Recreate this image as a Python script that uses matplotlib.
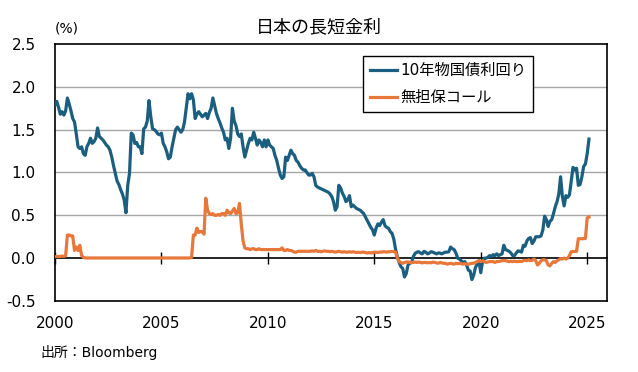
import matplotlib
matplotlib.use("Agg")
import matplotlib.pyplot as plt
import numpy as np
import pandas as pd

plt.rcParams['font.family'] = ['DejaVu Sans', 'Noto Sans CJK JP']

# monthly, Jan 2000 - Feb 2025
jgb10 = [
    1.79, 1.83, 1.76, 1.68, 1.71, 1.67, 1.72, 1.87, 1.80, 1.72, 1.63, 1.59,  # 2000
    1.45, 1.30, 1.28, 1.30, 1.22, 1.20, 1.30, 1.34, 1.40, 1.34, 1.36, 1.40,  # 2001
    1.52, 1.42, 1.40, 1.38, 1.35, 1.32, 1.30, 1.26, 1.18, 1.08, 0.99, 0.90,  # 2002
    0.86, 0.80, 0.75, 0.68, 0.53, 0.85, 0.99, 1.46, 1.44, 1.34, 1.35, 1.30,  # 2003
    1.30, 1.22, 1.51, 1.53, 1.60, 1.84, 1.65, 1.51, 1.50, 1.48, 1.45, 1.44,  # 2004
    1.46, 1.34, 1.30, 1.24, 1.16, 1.18, 1.30, 1.40, 1.50, 1.53, 1.50, 1.47,  # 2005
    1.50, 1.59, 1.75, 1.92, 1.86, 1.92, 1.85, 1.63, 1.68, 1.71, 1.68, 1.65,  # 2006
    1.67, 1.69, 1.63, 1.70, 1.75, 1.87, 1.78, 1.69, 1.63, 1.58, 1.52, 1.47,  # 2007
    1.38, 1.40, 1.28, 1.40, 1.75, 1.60, 1.55, 1.45, 1.42, 1.45, 1.30, 1.18,  # 2008
    1.26, 1.34, 1.40, 1.38, 1.47, 1.40, 1.32, 1.38, 1.35, 1.30, 1.38, 1.30,  # 2009
    1.38, 1.32, 1.30, 1.28, 1.20, 1.14, 1.05, 0.97, 0.93, 0.95, 1.18, 1.14,  # 2010
    1.20, 1.26, 1.22, 1.20, 1.14, 1.12, 1.08, 1.05, 1.03, 1.03, 1.00, 0.97,  # 2011
    0.97, 0.99, 0.95, 0.85, 0.83, 0.82, 0.81, 0.80, 0.79, 0.78, 0.77, 0.75,  # 2012
    0.72, 0.66, 0.56, 0.60, 0.85, 0.82, 0.76, 0.72, 0.66, 0.68, 0.73, 0.60,  # 2013
    0.62, 0.60, 0.58, 0.57, 0.56, 0.54, 0.52, 0.48, 0.44, 0.40, 0.36, 0.33,  # 2014
    0.27, 0.35, 0.40, 0.38, 0.42, 0.45, 0.38, 0.36, 0.35, 0.31, 0.29, 0.22,  # 2015
    0.10, 0.015, -0.05, -0.10, -0.12, -0.22, -0.18, -0.08, -0.06, -0.05, 0.02, 0.055,  # 2016
    0.07, 0.075, 0.06, 0.05, 0.08, 0.07, 0.05, 0.06, 0.075, 0.07, 0.06, 0.05,  # 2017
    0.06, 0.06, 0.05, 0.06, 0.07, 0.07, 0.075, 0.13, 0.11, 0.10, 0.06, 0.00,  # 2018
    -0.01, -0.03, -0.05, -0.04, -0.08, -0.14, -0.15, -0.25, -0.20, -0.11, -0.07, -0.03,  # 2019
    -0.17, -0.04, 0.00, 0.00, 0.01, 0.03, 0.02, 0.04, 0.03, 0.05, 0.03, 0.04,  # 2020
    0.05, 0.15, 0.10, 0.09, 0.08, 0.06, 0.03, 0.03, 0.06, 0.085, 0.08, 0.07,  # 2021
    0.15, 0.14, 0.20, 0.23, 0.24, 0.17, 0.20, 0.25, 0.25, 0.25, 0.26, 0.33,  # 2022
    0.49, 0.45, 0.37, 0.43, 0.45, 0.52, 0.60, 0.66, 0.75, 0.95, 0.72, 0.61,  # 2023
    0.73, 0.71, 0.74, 0.90, 1.06, 1.03, 1.05, 0.85, 0.86, 0.95, 1.07, 1.10,  # 2024
    1.22, 1.39,  # 2025
]

call_rate = [
    0.015, 0.02, 0.02, 0.02, 0.025, 0.02, 0.03, 0.27, 0.27, 0.26, 0.26, 0.09,  # 2000
    0.13, 0.09, 0.15, 0.03, 0.01, 0.003, 0.002, 0.002, 0.002, 0.002, 0.002, 0.002,  # 2001
    0.002, 0.002, 0.002, 0.002, 0.002, 0.002, 0.002, 0.002, 0.002, 0.002, 0.002, 0.002,  # 2002
    0.002, 0.002, 0.002, 0.002, 0.002, 0.002, 0.002, 0.002, 0.002, 0.002, 0.002, 0.002,  # 2003
    0.002, 0.002, 0.002, 0.002, 0.002, 0.002, 0.002, 0.002, 0.002, 0.002, 0.002, 0.002,  # 2004
    0.002, 0.002, 0.002, 0.002, 0.002, 0.002, 0.002, 0.002, 0.002, 0.002, 0.002, 0.002,  # 2005
    0.002, 0.002, 0.002, 0.002, 0.002, 0.01, 0.27, 0.27, 0.35, 0.30, 0.31, 0.31,  # 2006
    0.28, 0.70, 0.56, 0.52, 0.51, 0.52, 0.50, 0.50, 0.51, 0.50, 0.52, 0.52,  # 2007
    0.50, 0.56, 0.53, 0.52, 0.55, 0.58, 0.52, 0.53, 0.64, 0.40, 0.20, 0.12,  # 2008
    0.11, 0.11, 0.10, 0.11, 0.11, 0.10, 0.10, 0.11, 0.10, 0.10, 0.10, 0.10,  # 2009
    0.10, 0.10, 0.10, 0.10, 0.10, 0.10, 0.10, 0.10, 0.12, 0.09, 0.09, 0.10,  # 2010
    0.09, 0.09, 0.08, 0.07, 0.07, 0.08, 0.08, 0.08, 0.08, 0.08, 0.08, 0.08,  # 2011
    0.08, 0.085, 0.08, 0.09, 0.08, 0.08, 0.075, 0.08, 0.085, 0.08, 0.08, 0.075,  # 2012
    0.08, 0.075, 0.07, 0.075, 0.08, 0.075, 0.07, 0.075, 0.07, 0.07, 0.075, 0.07,  # 2013
    0.075, 0.07, 0.065, 0.07, 0.065, 0.07, 0.07, 0.065, 0.06, 0.065, 0.06, 0.065,  # 2014
    0.07, 0.07, 0.065, 0.07, 0.07, 0.075, 0.075, 0.07, 0.075, 0.075, 0.08, 0.075,  # 2015
    0.07, 0.00, -0.04, -0.05, -0.06, -0.05, -0.045, -0.045, -0.05, -0.05, -0.05, -0.045,  # 2016
    -0.05, -0.045, -0.05, -0.055, -0.05, -0.05, -0.055, -0.05, -0.055, -0.045, -0.05, -0.055,  # 2017
    -0.06, -0.05, -0.055, -0.06, -0.06, -0.07, -0.065, -0.06, -0.065, -0.07, -0.06, -0.065,  # 2018
    -0.06, -0.065, -0.07, -0.065, -0.07, -0.07, -0.065, -0.06, -0.06, -0.05, -0.04, -0.03,  # 2019
    -0.04, -0.03, -0.04, -0.05, -0.045, -0.04, -0.04, -0.04, -0.05, -0.04, -0.04, -0.035,  # 2020
    -0.03, -0.025, -0.03, -0.035, -0.04, -0.035, -0.04, -0.035, -0.04, -0.04, -0.035, -0.04,  # 2021
    -0.03, -0.025, -0.03, -0.02, -0.03, -0.025, -0.01, -0.03, -0.08, -0.06, -0.03, -0.02,  # 2022
    -0.02, -0.03, -0.08, -0.09, -0.06, -0.04, -0.05, -0.03, -0.02, -0.005, -0.01, 0.00,  # 2023
    -0.01, 0.00, 0.03, 0.075, 0.077, 0.077, 0.08, 0.227, 0.227, 0.227, 0.227, 0.23,  # 2024
    0.47, 0.48,  # 2025
]

dates = pd.date_range('2000-01-01', periods=len(jgb10), freq='MS')
x = dates.year + (dates.month - 1) / 12

year_ticks = [2000, 2005, 2010, 2015, 2020, 2025]
y_ticks = [-0.5, 0.0, 0.5, 1.0, 1.5, 2.0, 2.5]

fig = plt.figure(figsize=(6.38, 3.72), dpi=100)
ax = fig.add_axes([0.0862, 0.1909, 0.8652, 0.6908])

for v in [0.5, 1.0, 1.5, 2.0]:
    ax.axhline(v, color='#a6a6a6', lw=1.0, zorder=1)

ax.plot(x, jgb10, color='#1b5f80', lw=2.3, label='10年物国債利回り', zorder=3)
ax.plot(x, call_rate[:len(x)], color='#e8773a', lw=2.3, label='無担保コール', zorder=3)

ax.set_xlim(2000, 2025.93)
ax.set_ylim(-0.5, 2.5)
ax.set_yticks(y_ticks)
ax.set_yticklabels(['%.1f' % v for v in y_ticks])
ax.set_xticks(year_ticks)
ax.set_xticklabels([str(t) for t in year_ticks])
ax.tick_params(axis='y', length=0, pad=14, labelsize=11)
ax.tick_params(axis='x', length=0, pad=11, labelsize=11)
for s in ax.spines.values():
    s.set_color('black')
    s.set_linewidth(1.2)

# zero line with year ticks
zero = ax.secondary_xaxis(0.5 / 3.0)
zero.set_xticks(year_ticks)
zero.tick_params(direction='inout', length=9, width=1, labelbottom=False, labeltop=False)
zero.spines['bottom'].set_color('black')
zero.spines['bottom'].set_linewidth(1.2)

leg = ax.legend(loc='upper left', bbox_to_anchor=(0.558, 0.953), fontsize=11,
                frameon=True, fancybox=False, framealpha=1, edgecolor='black',
                handlelength=1.8, borderpad=0.45, labelspacing=0.8, handletextpad=0.2,
                borderaxespad=0)
leg.get_frame().set_linewidth(1.0)

fig.text(0.5, 1 - 27 / 372, '日本の長短金利', ha='center', va='center', fontsize=13)
fig.text(55 / 638, 1 - 29 / 372, '(%)', ha='left', va='center', fontsize=10)
fig.text(40 / 638, 1 - 353 / 372, '出所：Bloomberg', ha='left', va='center', fontsize=10)

fig.savefig('out.png', dpi=100)
